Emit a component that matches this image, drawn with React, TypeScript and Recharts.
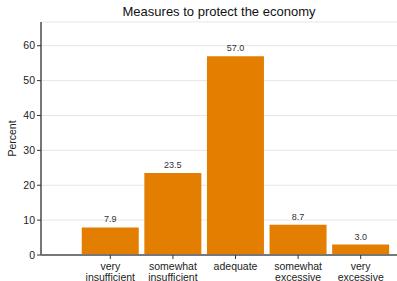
import React from "react";
import { BarChart, Bar, XAxis, YAxis, CartesianGrid, LabelList } from "recharts";

// categories and values
const categories = [
  "very insufficient",
  "somewhat insufficient",
  "adequate",
  "somewhat excessive",
  "very excessive",
];
const tickLines = [
  ["very", "insufficient"],
  ["somewhat", "insufficient"],
  ["adequate"],
  ["somewhat", "excessive"],
  ["very", "excessive"],
];
const percents = [7.9, 23.5, 57.0, 8.7, 3.0];
const yTicks = [0, 10, 20, 30, 40, 50, 60];

const data = categories.map((c, i) => ({ name: c, pct: percents[i], idx: i }));

const FONT = "Helvetica, Arial, 'Liberation Sans', sans-serif";

const XTick = (props: any) => {
  const { x, y, index } = props;
  const lines = tickLines[index] || [];
  return (
    <g transform={`translate(${x},${y})`}>
      {lines.map((l, i) => (
        <text
          key={i}
          x={0}
          y={9 + i * 10.5}
          textAnchor="middle"
          fontSize={10.5}
          fill="#222"
          fontFamily={FONT}
        >
          {l}
        </text>
      ))}
    </g>
  );
};

export default function App() {
  return (
    <div style={{ width: 397, height: 281, position: "relative", fontFamily: FONT }}>
      <style>{`body{margin:0}`}</style>
      <div
        style={{
          position: "absolute",
          top: 4,
          left: 41,
          right: 0,
          textAlign: "center",
          fontSize: 13,
          color: "#111",
        }}
      >
        Measures to protect the economy
      </div>
      <BarChart
        width={397}
        height={281}
        data={data}
        margin={{ top: 22, right: 0, left: 0, bottom: 0 }}
        barCategoryGap={2.75}
      >
        <CartesianGrid vertical={false} stroke="#e6e6e6" />
        <XAxis
          dataKey="name"
          height={26}
          padding={{ left: 38, right: 5 }}
          tick={<XTick />}
          tickSize={4}
          interval={0}
          axisLine={{ stroke: "#777", strokeWidth: 2 }}
          tickLine={{ stroke: "#333" }}
        />
        <YAxis
          width={41}
          domain={[0, 66.8]}
          ticks={yTicks}
          tickSize={4}
          axisLine={{ stroke: "#777", strokeWidth: 2 }}
          tickLine={{ stroke: "#333" }}
          tick={{ fontSize: 10.5, fill: "#222", fontFamily: FONT }}
          label={{
            value: "Percent",
            angle: -90,
            position: "insideLeft",
            offset: 12,
            style: { fontSize: 10.5, fill: "#222", fontFamily: FONT, textAnchor: "middle" },
          }}
        />
        <Bar dataKey="pct" fill="#E37E00" isAnimationActive={false}>
          <LabelList
            dataKey="pct"
            position="top"
            offset={5}
            formatter={(v: any) => Number(v).toFixed(1)}
            style={{ fontSize: 9, fill: "#333", fontFamily: FONT }}
          />
        </Bar>
      </BarChart>
    </div>
  );
}
